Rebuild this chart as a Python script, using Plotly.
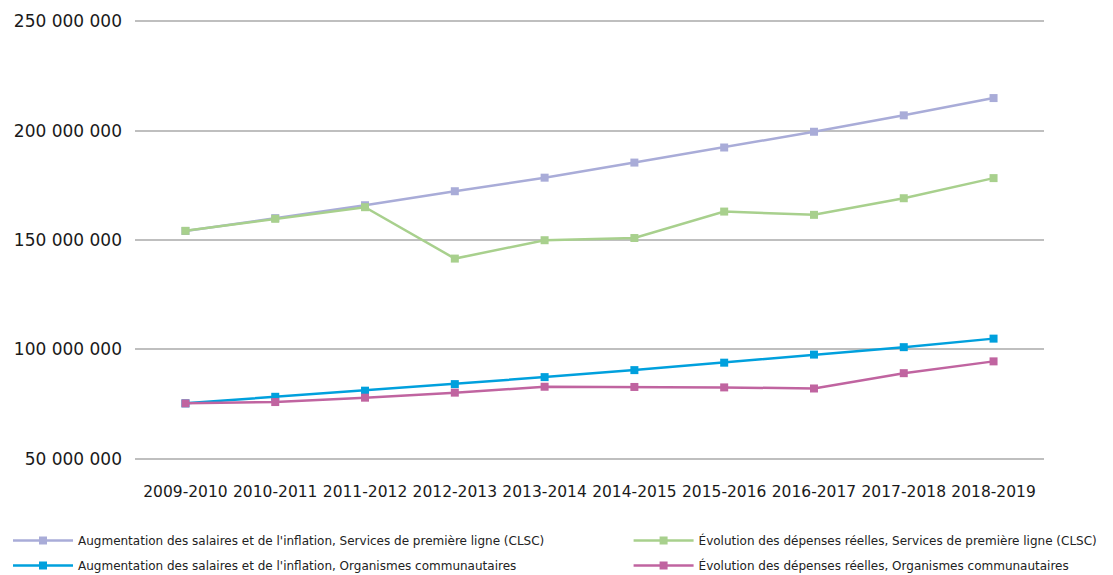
import plotly.graph_objects as go

categories = ["2009-2010", "2010-2011", "2011-2012", "2012-2013", "2013-2014",
              "2014-2015", "2015-2016", "2016-2017", "2017-2018", "2018-2019"]

salaires_clsc = [154.1e6, 160.0e6, 165.9e6, 172.3e6, 178.5e6, 185.4e6, 192.3e6, 199.5e6, 207.0e6, 214.9e6]
depenses_clsc = [154.2e6, 159.7e6, 165.0e6, 141.5e6, 149.9e6, 150.9e6, 163.0e6, 161.5e6, 169.1e6, 178.3e6]
salaires_org = [75.3e6, 78.3e6, 81.1e6, 84.1e6, 87.3e6, 90.5e6, 93.9e6, 97.6e6, 101.0e6, 104.9e6]
depenses_org = [75.3e6, 75.9e6, 77.9e6, 80.2e6, 82.9e6, 82.8e6, 82.6e6, 82.1e6, 89.1e6, 94.5e6]

names = [
    "Augmentation des salaires et de l'inflation, Services de première ligne (CLSC)",
    "Évolution des dépenses réelles, Services de première ligne (CLSC)",
    "Augmentation des salaires et de l'inflation, Organismes communautaires",
    "Évolution des dépenses réelles, Organismes communautaires",
]
colors = ["#A9ACD8", "#A8D08D", "#00A0DD", "#C064A0"]
series = [salaires_clsc, depenses_clsc, salaires_org, depenses_org]
legend_ids = ["legend", "legend2", "legend", "legend2"]

fig = go.Figure()
for i, (name, vals, col, lg) in enumerate(zip(names, series, colors, legend_ids)):
    fig.add_trace(go.Scatter(
        x=categories, y=vals, name=name, mode="lines+markers",
        line=dict(color=col, width=2.5),
        marker=dict(symbol="square", size=8, color=col),
        legend=lg, legendgroup=f"g{i}",
    ))

tickvals = [50e6, 100e6, 150e6, 200e6, 250e6]
ticktext = ["50 000 000", "100 000 000", "150 000 000", "200 000 000", "250 000 000"]

FONT = "DejaVu Sans, sans-serif"
legend_common = dict(orientation="v", xanchor="left", yanchor="top", y=-0.150,
                     itemwidth=60, font=dict(size=12, family=FONT, color="#222222"),
                     traceorder="grouped", tracegroupgap=6, bgcolor="rgba(0,0,0,0)")

fig.update_layout(
    width=1105, height=567,
    margin=dict(l=127, r=69, t=12, b=115, autoexpand=False),
    plot_bgcolor="white", paper_bgcolor="white",
    font=dict(family=FONT, color="#1a1a1a"),
    xaxis=dict(showgrid=False, showline=False, ticks="", tickfont=dict(size=15.5),
               tickangle=0, ticklabelstandoff=20),
    yaxis=dict(range=[49.4e6, 250.6e6], tickvals=tickvals, ticktext=ticktext,
               showgrid=True, gridcolor="#BFBFBF", gridwidth=1.5,
               zeroline=False, showline=False, ticks="", ticklabelstandoff=12,
               tickfont=dict(size=17)),
    legend=dict(x=-0.1397, **legend_common),
    legend2=dict(x=0.543, **legend_common),
    showlegend=True,
)

fig.write_html("out.html")
